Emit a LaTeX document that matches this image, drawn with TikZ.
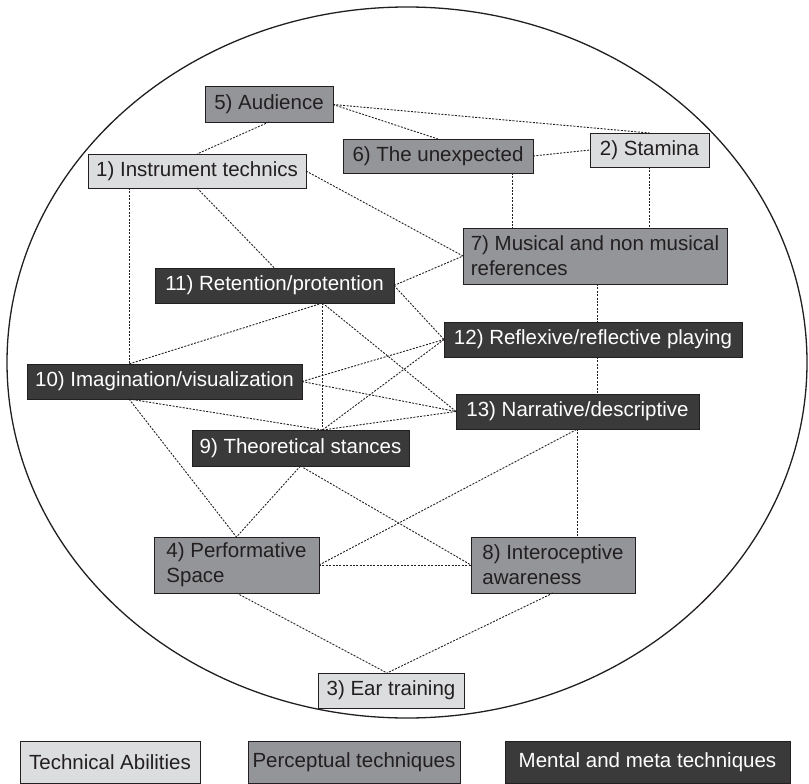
\documentclass[tikz,border=0pt]{standalone}
\usepackage{fontspec}
\setmainfont{Liberation Sans}
\definecolor{lightbox}{HTML}{DCDDDE}
\definecolor{midbox}{HTML}{939598}
\definecolor{darkbox}{HTML}{3A3A3A}
\definecolor{ink}{HTML}{231F20}
\begin{document}
\begin{tikzpicture}[x=1pt,y=-1pt,
  box/.style={draw=ink,line width=1pt,inner sep=0pt,outer sep=0pt,align=left,
    font=\fontsize{20.5}{25}\selectfont},
  techbox/.style={box,fill=lightbox,text=ink},
  percbox/.style={box,fill=midbox,text=ink},
  mentbox/.style={box,fill=darkbox,text=white},
  link/.style={draw=ink,line width=0.9pt,dash pattern=on 2pt off 1.4pt}]
\useasboundingbox (0,0) rectangle (809,784);
\draw[ink,line width=1.3pt] (407,362.5) ellipse [x radius=400,y radius=355.5];

% nodes
\node[percbox,minimum width=128,minimum height=35] (aud) at (269,104.5) {5) Audience};
\node[techbox,minimum width=218,minimum height=34] (inst) at (197,171) {1) Instrument technics};
\node[percbox,minimum width=190,minimum height=34] (unexp) at (438,156) {6) The unexpected};
\node[techbox,minimum width=119,minimum height=34] (stam) at (649.5,150) {2) Stamina};
\node[percbox,minimum width=264,minimum height=56] (mus) at (595,256) {7) Musical and non musical\\references};
\node[mentbox,minimum width=239,minimum height=35] (ret) at (274.5,285.5) {11) Retention/protention};
\node[mentbox,minimum width=275,minimum height=35] (imag) at (164.5,381.5) {10) Imagination/visualization};
\node[mentbox,minimum width=217,minimum height=36] (theo) at (300.5,448) {9) Theoretical stances};
\node[mentbox,minimum width=298,minimum height=35] (refl) at (593,339.5) {12) Reflexive/reflective playing};
\node[mentbox,minimum width=243,minimum height=35] (narr) at (577.5,411.5) {13) Narrative/descriptive};
\node[percbox,minimum width=165,minimum height=56] (perf) at (236.5,565) {4) Performative\\Space};
\node[percbox,minimum width=164,minimum height=56] (intero) at (553,565) {8) Interoceptive\\awareness};
\node[techbox,minimum width=146,minimum height=35] (ear) at (391,690.5) {3) Ear training};

% legend
\node[techbox,minimum width=180,minimum height=42] (legtech) at (110,762) {Technical Abilities};
\node[percbox,minimum width=212,minimum height=42] (legperc) at (354,762) {Perceptual techniques};
\node[mentbox,minimum width=285,minimum height=42] (legment) at (647.5,762) {Mental and meta techniques};

% helper coordinates
\coordinate (ub) at ([xshift=-21]unexp.south east);
\coordinate (ib1) at ([xshift=41]inst.south west);
\coordinate (rb) at ([xshift=48]ret.south);
\coordinate (tt) at (rb |- theo.north);
\coordinate (ib) at ([xshift=102]imag.south west);
\coordinate (mc) at ([xshift=2]mus.south);

% connectors
\draw[link] (aud.south) -- (inst.north);
\draw[link] (aud.east) -- (stam.north);
\draw[link] (aud.east) -- (unexp.north);
\draw[link] (unexp.east) -- (stam.west);
\draw[link] (ub) -- (ub |- mus.north);
\draw[link] (stam.south) -- (stam.south |- mus.north);
\draw[link] (inst.east) -- (mus.west);
\draw[link] (ret.east) -- (mus.west);
\draw[link] (inst.south) -- (ret.north);
\draw[link] (ib1) -- (ib1 |- imag.north);
\draw[link] (rb) -- (ib1 |- imag.north);
\draw[link] (rb) -- (tt);
\draw[link] (rb) -- (narr.west);
\draw[link] (ret.east) -- (refl.west);
\draw[link] (imag.east) -- (refl.west);
\draw[link] (imag.east) -- (narr.west);
\draw[link] (ib) -- (tt);
\draw[link] (tt) -- (refl.west);
\draw[link] (tt) -- (narr.west);
\draw[link] (theo.south) -- (perf.north);
\draw[link] (ib) -- (perf.north);
\draw[link] (theo.south) -- (intero.west);
\draw[link] (perf.east) -- (intero.west);
\draw[link] (perf.east) -- (narr.south);
\draw[link] (narr.south) -- (narr.south |- intero.north);
\draw[link] (mc) -- (mc |- refl.north);
\draw[link] (mc |- refl.south) -- (mc |- narr.north);
\draw[link] (perf.south) -- ([xshift=-4]ear.north);
\draw[link] (intero.south) -- ([xshift=-4]ear.north);
\end{tikzpicture}
\end{document}
